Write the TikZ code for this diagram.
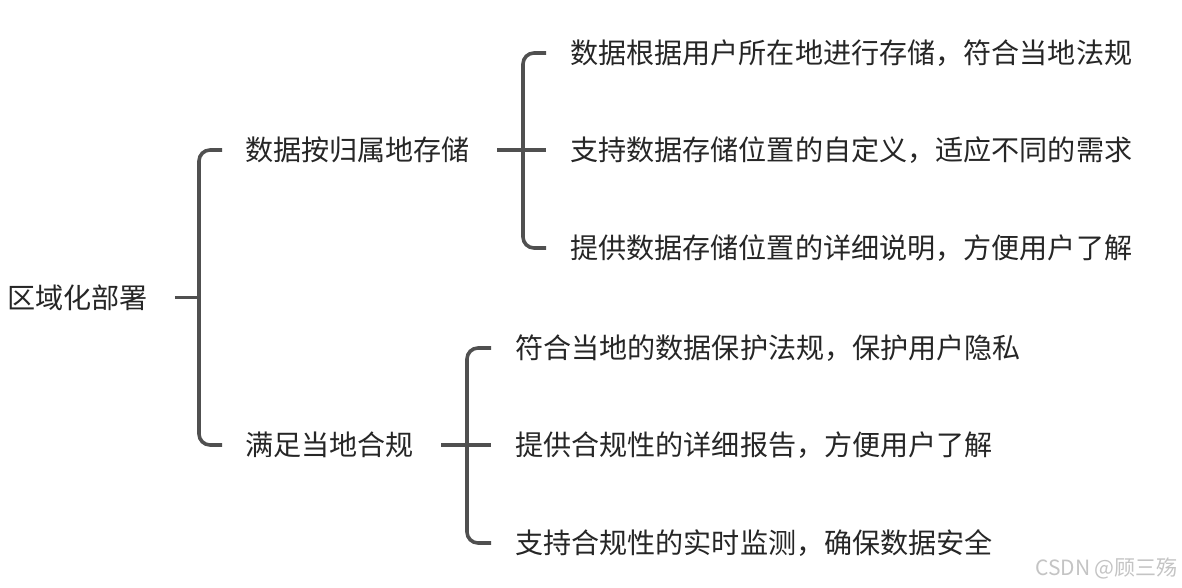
\documentclass[tikz,border=0pt]{standalone}
\usepackage{fontspec}
\setmainfont{Noto Sans CJK SC}
\definecolor{txt}{HTML}{262626}
\definecolor{ln}{HTML}{505050}
\definecolor{wm}{HTML}{C4C4C4}
\begin{document}
\begin{tikzpicture}[x=1pt,y=-1pt,
  lbl/.style={anchor=west,inner sep=0pt,text=txt,font=\fontsize{28.1}{30}\selectfont},
  conn/.style={draw=ln,line width=3.6pt,rounded corners=11pt}]
\useasboundingbox[fill=white] (0,0) rectangle (1182,588);
% nodes
\node[lbl] (r) at (7,297.5) {区域化部署};
\node[lbl] (b1) at (245,150) {数据按归属地存储};
\node[lbl] (b2) at (245,445) {满足当地合规};
\node[lbl] (c11) at (570,53) {数据根据用户所在地进行存储，符合当地法规};
\node[lbl] (c12) at (570,150) {支持数据存储位置的自定义，适应不同的需求};
\node[lbl] (c13) at (570,248) {提供数据存储位置的详细说明，方便用户了解};
\node[lbl] (c21) at (515,348) {符合当地的数据保护法规，保护用户隐私};
\node[lbl] (c22) at (515,445) {提供合规性的详细报告，方便用户了解};
\node[lbl] (c23) at (515,543) {支持合规性的实时监测，确保数据安全};
\node[anchor=east,inner sep=0pt,text=wm,font=\fontsize{21}{22}\selectfont] (wmk) at (1178,568) {CSDN @顾三殇};
% junctions
\coordinate (j1) at (199,297.5);
\coordinate (j2) at (523,150);
\coordinate (j3) at (467,445);
% connectors
\draw[conn] ([xshift=27pt]r.east) -- (j1);
\draw[conn] ([xshift=-23pt]b1.west) -| (j1) |- ([xshift=-23pt]b2.west);
\draw[conn] ([xshift=27pt]b1.east) -- ([xshift=-24pt]c12.west);
\draw[conn] ([xshift=-24pt]c11.west) -| (j2) |- ([xshift=-24pt]c13.west);
\draw[conn] ([xshift=27pt]b2.east) -- ([xshift=-24pt]c22.west);
\draw[conn] ([xshift=-24pt]c21.west) -| (j3) |- ([xshift=-24pt]c23.west);
\end{tikzpicture}
\end{document}
